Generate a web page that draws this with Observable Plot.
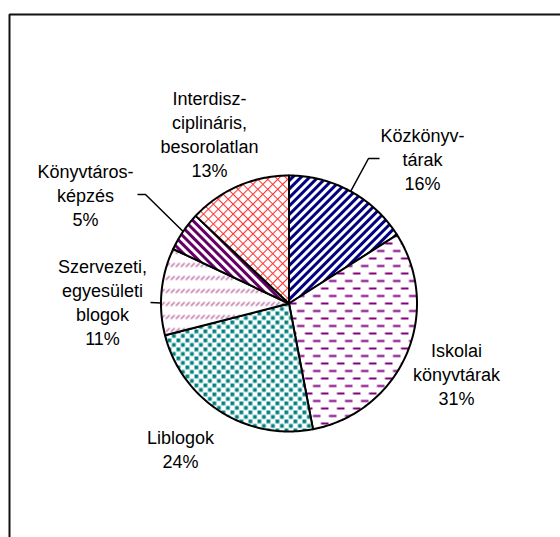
<!DOCTYPE html>
<html><head><meta charset="utf-8">
<script src="https://cdn.jsdelivr.net/npm/d3@7"></script>
<script src="https://cdn.jsdelivr.net/npm/@observablehq/plot@0.6"></script>
<style>body{margin:0;background:#fff} #chart svg{display:block}</style>
</head><body><div id="chart"></div>
<script>
// ---- data ----
const categories = ["Közkönyvtárak", "Iskolai könyvtárak", "Liblogok", "Szervezeti, egyesületi blogok", "Könyvtárosképzés", "Interdiszciplináris, besorolatlan"];
const shares = [16, 31, 24, 11, 5, 13];
const labelLines = ["Közkönyv-\ntárak", "Iskolai\nkönyvtárak", "Liblogok", "Szervezeti,\negyesületi\nblogok", "Könyvtáros-\nképzés", "Interdisz-\nciplináris,\nbesorolatlan"];

// ---- layout ----
const W = 560, H = 537;
const center = [288.5, 303], R = 128;
const labelPos = [[422, 158], [456, 373], [180, 448], [102, 301], [85, 194], [209, 133]];
// leader: slice index, label end, elbow, position within slice (0..1)
const leaders = [
  {i: 0, start: [379, 158], elbow: [368, 158], at: 0.5},
  {i: 3, start: [150, 302], elbow: [150, 302], at: 0.37},
  {i: 4, start: [137, 194], elbow: [145, 194], at: 0.5}
];
const framePts = [[9, H], [9, 14], [W, 14]];

// ---- geometry from d3.pie ----
const arcs = d3.pie().sort(null).startAngle(0).endAngle(2 * Math.PI)(shares);
const pt = a => ({x: center[0] + R * Math.sin(a), y: center[1] - R * Math.cos(a)});
const wedges = arcs.map((a, i) => {
  const n = Math.max(4, Math.ceil((a.endAngle - a.startAngle) / (Math.PI / 180)));
  const pts = [{x: center[0], y: center[1]}];
  for (let k = 0; k <= n; k++) pts.push(pt(a.startAngle + (a.endAngle - a.startAngle) * k / n));
  return pts;
});
const leaderPts = leaders.flatMap((l, j) => {
  const a = arcs[l.i];
  const p = pt(a.startAngle + (a.endAngle - a.startAngle) * l.at);
  return [{k: j, x: l.start[0], y: l.start[1]}, {k: j, x: l.elbow[0], y: l.elbow[1]}, {k: j, ...p}];
});
const labelData = shares.map((v, i) => ({x: labelPos[i][0], y: labelPos[i][1], text: `${labelLines[i]}\n${v}%`}));
const frameData = framePts.map(([x, y]) => ({x, y}));

const font = "'Liberation Sans', Arial, sans-serif";
const chart = Plot.plot({
  width: W, height: H, margin: 0,
  x: {domain: [0, W], range: [0, W], axis: null},
  y: {domain: [0, H], range: [0, H], axis: null},
  style: {fontFamily: font, background: "white"},
  marks: [
    Plot.line(frameData, {x: "x", y: "y", stroke: "#111", strokeWidth: 2, strokeLinecap: "square", strokeLinejoin: "miter"}),
    ...wedges.map((w, i) => Plot.line(w, {x: "x", y: "y", curve: "linear-closed", fill: `url(#pat${i})`, stroke: "black", strokeWidth: 2})),
    Plot.line(leaderPts, {x: "x", y: "y", z: "k", stroke: "black", strokeWidth: 1.5, strokeLinejoin: "miter", strokeLinecap: "butt"}),
    Plot.text(labelData, {x: "x", y: "y", text: "text", fontSize: 18, lineHeight: 1.33, fill: "black", fontFamily: font})
  ]
});

// ---- patterns ----
const defs = d3.select(chart).insert("defs", ":first-child");
function pattern(id, w, h, transform) {
  const p = defs.append("pattern").attr("id", id).attr("patternUnits", "userSpaceOnUse")
    .attr("width", w).attr("height", h);
  if (transform) p.attr("patternTransform", transform);
  p.append("rect").attr("width", w).attr("height", h).attr("fill", "white");
  return p;
}
// 0 navy upward diagonal stripes
pattern("pat0", 6, 6, "rotate(-45)").append("rect").attr("width", 6).attr("height", 3).attr("fill", "#000080");
// 1 purple dashed horizontal
{ const p = pattern("pat1", 16, 15);
  p.append("rect").attr("x", 0.5).attr("y", 2).attr("width", 7.5).attr("height", 2).attr("fill", "#800080");
  p.append("rect").attr("x", 8.5).attr("y", 9.5).attr("width", 7.5).attr("height", 2).attr("fill", "#800080"); }
// 2 teal confetti squares
{ const p = pattern("pat2", 9, 9);
  p.append("rect").attr("x", 0.5).attr("y", 0.5).attr("width", 3.8).attr("height", 3.8).attr("fill", "#008080");
  p.append("rect").attr("x", 5).attr("y", 5).attr("width", 3.8).attr("height", 3.8).attr("fill", "#008080"); }
// 3 mauve dashed upward diagonal
pattern("pat3", 5, 13).append("path").attr("d", "M0.8,6 L3.8,3").attr("stroke", "#c070a8").attr("stroke-width", 1.5).attr("stroke-linecap", "round");
// 4 dark purple downward diagonal stripes
pattern("pat4", 6, 6, "rotate(45)").append("rect").attr("width", 6).attr("height", 3).attr("fill", "#660066");
// 5 red trellis
pattern("pat5", 7, 7, "rotate(45)").append("path").attr("d", "M0,0.5 H7 M0.5,0 V7").attr("stroke", "#ff3333").attr("stroke-width", 1.1).attr("fill", "none");

document.getElementById("chart").append(chart);
</script>
</body></html>
